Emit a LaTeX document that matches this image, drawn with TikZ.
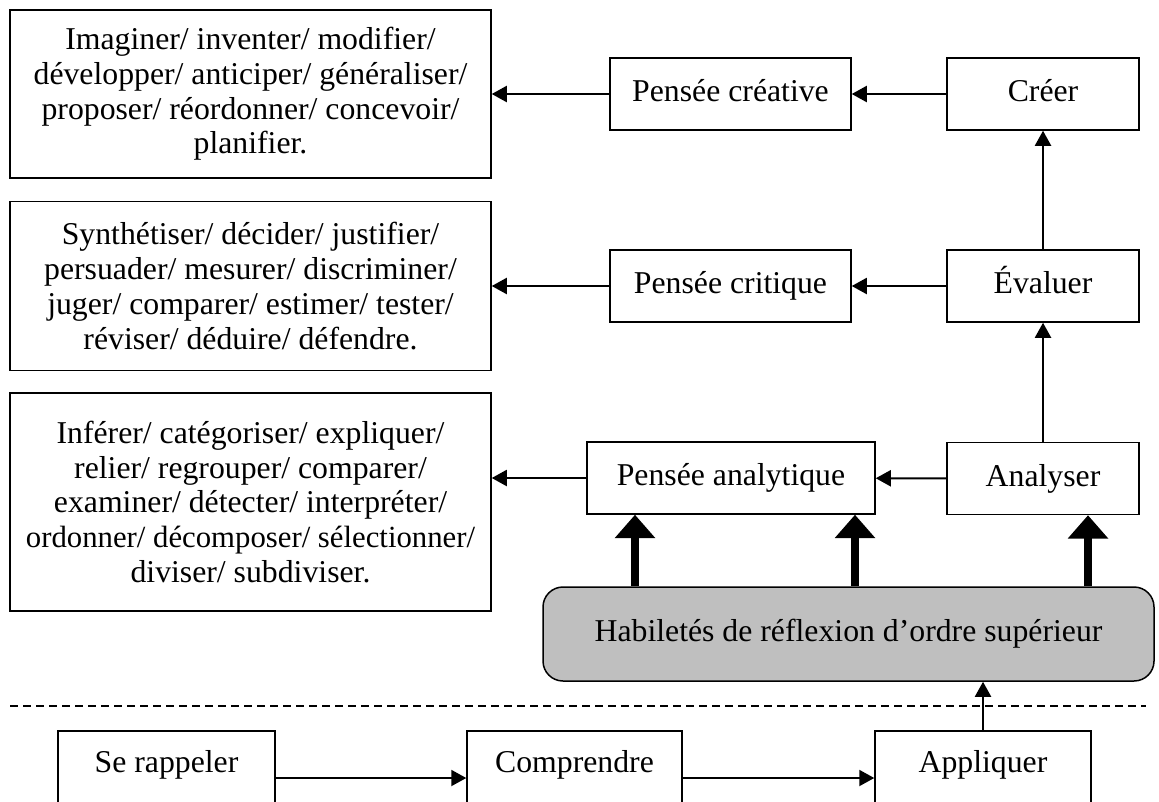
\documentclass[tikz,border=0pt]{standalone}
\usepackage{fontspec}
\setmainfont{Liberation Serif}
\usetikzlibrary{arrows.meta}

\begin{document}
\begin{tikzpicture}[x=0.4pt,y=-0.4pt,
    txt/.style={font=\fontsize{12.7pt}{13.9pt}\selectfont},
    verbbox/.style={txt, draw, line width=0.6pt, align=center, inner sep=0pt, minimum width=192.4pt},
    levelbox/.style={txt, draw, line width=0.6pt, inner sep=0pt, minimum height=28.8pt, text height=9pt, text depth=3pt},
    basebox/.style={txt, draw, line width=0.6pt, inner xsep=0pt, inner ysep=3pt, text height=13.4pt, text depth=18.2pt},
    thin/.style={line width=0.8pt, -{Triangle[length=6pt,width=6.4pt]}},
    bigarrow/.style={line width=3.2pt, -{Triangle[length=9.3pt,width=15.6pt]}}]
\clip (0,0) rectangle (1159,801);
\node[verbbox, minimum height=67.2pt] (verbsA) at (250.5,94)
    {Imaginer/ inventer/ modifier/\\d\'evelopper/ anticiper/ g\'en\'eraliser/\\proposer/ r\'eordonner/ concevoir/\\planifier.};
\node[verbbox, minimum height=67.6pt] (verbsB) at (250.5,286)
    {Synth\'etiser/ d\'ecider/ justifier/\\persuader/ mesurer/ discriminer/\\juger/ comparer/ estimer/ tester/\\r\'eviser/ d\'eduire/ d\'efendre.};
\node[verbbox, minimum height=87.2pt] (verbsC) at (250.5,502)
    {Inf\'erer/ cat\'egoriser/ expliquer/\\relier/ regrouper/ comparer/\\examiner/ d\'etecter/ interpr\'eter/\\{\fontsize{12.3pt}{13.9pt}\selectfont ordonner/ d\'ecomposer/ s\'electionner/}\\diviser/ subdiviser.};
\node[levelbox, minimum width=96.4pt] (creative) at (730.5,94) {Pens\'ee cr\'eative};
\node[levelbox, minimum width=96.4pt] (critique) at (730.5,286) {Pens\'ee critique};
\node[levelbox, minimum width=115.2pt] (analytique) at (731,478) {Pens\'ee analytique};
\node[levelbox, minimum width=76.8pt] (creer) at (1043,94) {Cr\'eer};
\node[levelbox, minimum width=76.8pt] (evaluer) at (1043,286) {\'Evaluer};
\node[levelbox, minimum width=76.8pt] (analyser) at (1043,478.5) {Analyser};
\node[txt, draw, line width=0.6pt, fill=black!25, rounded corners=8pt, minimum width=244.4pt, minimum height=37.6pt] (hab) at (848.5,634)
    {Habilet\'es de r\'eflexion d’ordre sup\'erieur};
\node[basebox, minimum width=86.8pt] (rappeler) at (166.5,778) {Se rappeler};
\node[basebox, minimum width=86pt] (comprendre) at (574.5,778) {Comprendre};
\node[basebox, minimum width=86.4pt] (appliquer) at (983,778) {Appliquer};
\coordinate (colA) at (635,0);
\coordinate (colB) at (855,0);
\coordinate (colC) at (1088,0);
\coordinate (dashL) at (10,706);
\coordinate (dashR) at (1146,706);

\draw[thin] (creer) -- (creative);
\draw[thin] (creative) -- (verbsA.east |- creative);
\draw[thin] (evaluer) -- (critique);
\draw[thin] (critique) -- (verbsB.east |- critique);
\draw[thin] (analyser) -- (analytique);
\draw[thin] (analytique) -- (verbsC.east |- analytique);
\draw[thin] (analyser) -- (evaluer);
\draw[thin] (evaluer) -- (creer);
\draw[bigarrow] (hab.north -| colA) -- (analytique.south -| colA);
\draw[bigarrow] (hab.north -| colB) -- (analytique.south -| colB);
\draw[bigarrow] (hab.north -| colC) -- (analyser.south -| colC);
\draw[line width=0.6pt, dash pattern=on 3.2pt off 2pt] (dashL) -- (dashR);
\draw[thin] (rappeler) -- (comprendre);
\draw[thin] (comprendre) -- (appliquer);
\draw[thin] (appliquer.north) -- (appliquer.north |- hab.south);
\end{tikzpicture}
\end{document}
